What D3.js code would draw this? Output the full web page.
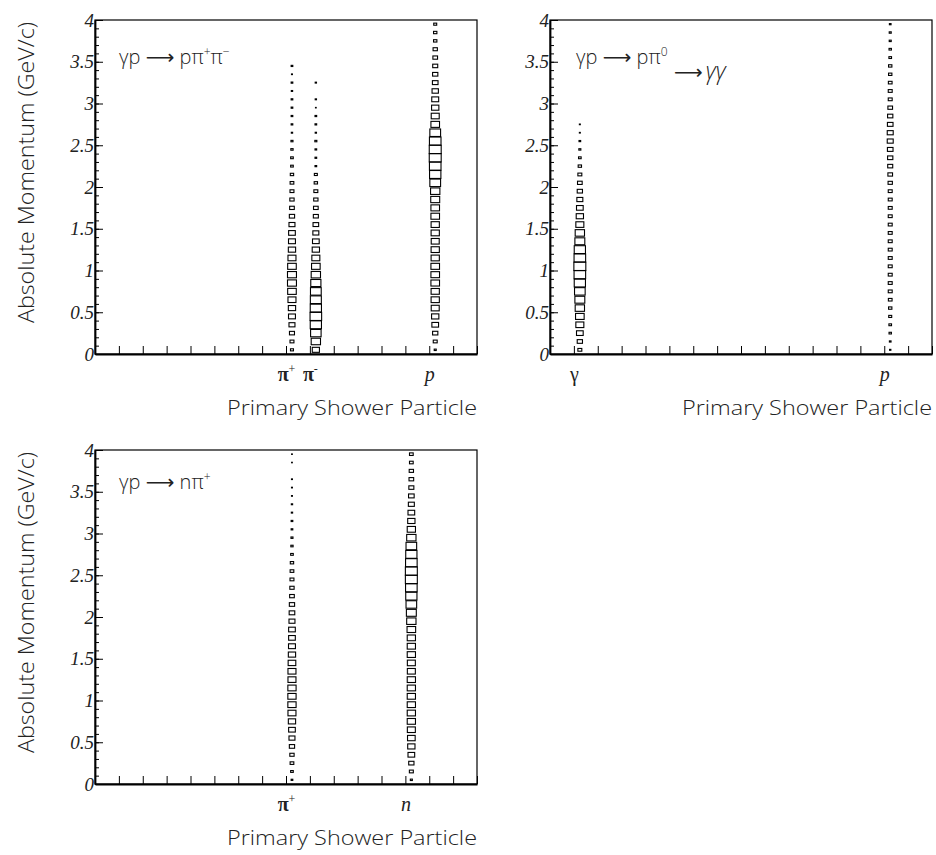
<!DOCTYPE html>
<html>
<head>
<meta charset="utf-8">
<script src="https://cdn.jsdelivr.net/npm/d3@7"></script>
<style>
  body { margin: 0; background: #fff; }
  svg { display: block; }
</style>
</head>
<body>
<svg id="fig" width="936" height="855"></svg>
<script>
// Momentum bin centres (GeV/c), 0.1 GeV/c wide bins from 0 to 4
const momentumCentres = [0.05, 0.15, 0.25, 0.35, 0.45, 0.55, 0.65, 0.75, 0.85, 0.95,
  1.05, 1.15, 1.25, 1.35, 1.45, 1.55, 1.65, 1.75, 1.85, 1.95,
  2.05, 2.15, 2.25, 2.35, 2.45, 2.55, 2.65, 2.75, 2.85, 2.95,
  3.05, 3.15, 3.25, 3.35, 3.45, 3.55, 3.65, 3.75, 3.85, 3.95];
const momentumTicks = [0, 0.5, 1, 1.5, 2, 2.5, 3, 3.5, 4];
const momentumTickLabels = ["0", "0.5", "1", "1.5", "2", "2.5", "3", "3.5", "4"];
const particleAxisTicks = [0, 1, 2, 3, 4, 5, 6, 7, 8, 9, 10, 11, 12, 13, 14, 15, 16];

// γp → pπ+π-  (GEANT ids: π+ = 8, π- = 9, p = 14)
const pipiIds = [8, 9, 14];
const pipiLabels = ["π", "π", "p"];
const pipiCharges = ["+", "-", ""];
const pipiPiPlus = [25, 33, 42, 50, 58, 61, 67, 72, 75, 75, 72, 67, 61, 58, 56, 50, 44, 39, 36, 33,
  31, 28, 22, 22, 19, 17, 11, 14, 14, 14, 14, 11, 14, 8, 14, 0, 0, 0, 0, 0];
const pipiPiMinus = [60, 78, 88, 94, 97, 94, 92, 90, 85, 78, 72, 67, 61, 56, 50, 47, 42, 39, 36, 33,
  28, 25, 14, 14, 14, 17, 11, 14, 14, 6, 11, 0, 11, 0, 0, 0, 0, 0, 0, 0];
const pipiProton = [17, 33, 44, 56, 61, 67, 69, 69, 72, 72, 72, 69, 69, 67, 69, 69, 72, 72, 75, 78,
  90, 95, 97, 100, 100, 97, 90, 72, 67, 61, 58, 53, 47, 44, 42, 39, 36, 28, 28, 25];

// γp → pπ0, π0 → γγ  (GEANT ids: γ = 1, p = 14)
const pi0Ids = [1, 14];
const pi0Labels = ["γ", "p"];
const pi0Charges = ["", ""];
const pi0Gamma = [33, 44, 56, 67, 72, 78, 83, 89, 94, 97, 100, 97, 94, 83, 78, 67, 61, 56, 50, 44,
  39, 33, 28, 22, 17, 14, 8, 8, 0, 0, 0, 0, 0, 0, 0, 0, 0, 0, 0, 0];
const pi0Proton = [11, 14, 20, 22, 25, 28, 31, 33, 33, 33, 33, 33, 33, 33, 33, 33, 33, 33, 33, 33,
  36, 39, 42, 44, 47, 50, 50, 47, 44, 39, 33, 33, 31, 28, 28, 22, 20, 17, 17, 14];

// γp → nπ+  (GEANT ids: π+ = 8, n = 13)
const npiIds = [8, 13];
const npiLabels = ["π", "n"];
const npiCharges = ["+", ""];
const npiPiPlus = [14, 22, 31, 36, 44, 50, 56, 61, 67, 69, 69, 69, 67, 67, 64, 61, 58, 56, 56, 50,
  47, 44, 39, 36, 33, 31, 28, 22, 19, 17, 14, 14, 11, 11, 8, 8, 8, 0, 6, 6];
const npiNeutron = [17, 33, 44, 56, 61, 64, 67, 69, 69, 69, 69, 69, 69, 67, 67, 69, 69, 69, 72, 78,
  83, 89, 94, 97, 100, 100, 97, 94, 89, 78, 69, 61, 56, 50, 47, 42, 39, 36, 31, 31];

const W = 382, H = 334;
const svg = d3.select("#fig");

const panels = [
  { left: 95, top: 20, ids: pipiIds, labels: pipiLabels, charges: pipiCharges,
    series: [pipiPiPlus, pipiPiMinus, pipiProton], yTitle: true, reaction: "pipi" },
  { left: 550, top: 20, ids: pi0Ids, labels: pi0Labels, charges: pi0Charges,
    series: [pi0Gamma, pi0Proton], yTitle: false, reaction: "pi0" },
  { left: 95, top: 450, ids: npiIds, labels: npiLabels, charges: npiCharges,
    series: [npiPiPlus, npiNeutron], yTitle: true, reaction: "npi" }
];

const sans = "'Open Sans', 'Liberation Sans', Arial, sans-serif";
const serif = "'Liberation Serif', 'Times New Roman', serif";
const arrowFont = "'DejaVu Sans', sans-serif";
const ink = "#222";

function reactionText(g, kind) {
  const t = g.append("text")
    .attr("font-family", sans).attr("font-weight", 300).attr("font-size", 20).attr("fill", ink);
  const piece = (txt, opts = {}) => {
    const s = t.append("tspan").text(txt);
    if (opts.dy !== undefined) s.attr("dy", opts.dy);
    if (opts.size) s.attr("font-size", opts.size);
    if (opts.family) s.attr("font-family", opts.family).attr("font-weight", "normal");
    return s;
  };
  if (kind === "pipi") {
    t.attr("x", 24).attr("y", 44);
    piece("γp ");
    piece("⟶", { family: arrowFont });
    piece(" pπ");
    piece("+", { dy: -8, size: 12 });
    piece("π", { dy: 8 });
    piece("−", { dy: -8, size: 12 });
  } else if (kind === "pi0") {
    t.attr("x", 26).attr("y", 44);
    piece("γp ");
    piece("⟶", { family: arrowFont });
    piece(" pπ");
    piece("0", { dy: -8, size: 12 });
    const t2 = g.append("text").attr("x", 124).attr("y", 59)
      .attr("font-size", 20).attr("fill", ink);
    t2.append("tspan").attr("font-family", arrowFont).text("⟶");
    t2.append("tspan").attr("dx", 3).attr("font-family", sans).attr("font-weight", 300)
      .attr("font-style", "italic").attr("font-size", 23).text("γγ");
  } else {
    t.attr("x", 24).attr("y", 39);
    piece("γp ");
    piece("⟶", { family: arrowFont });
    piece(" nπ");
    piece("+", { dy: -8, size: 12 });
  }
}

panels.forEach(p => {
  const g = svg.append("g").attr("transform", `translate(${p.left},${p.top})`);
  const x = d3.scaleLinear().domain([0, 16]).range([0, W]);
  const y = d3.scaleLinear().domain([0, 4]).range([H, 0]);
  const binW = x(0.5) - x(0);
  const binH = y(0) - y(0.1);
  const zMax = d3.max(p.series.flat());

  // frame
  g.append("rect").attr("x", 0).attr("y", 0).attr("width", W).attr("height", H)
    .attr("fill", "none").attr("stroke", "#000").attr("stroke-width", 1.2);

  // boxes: side proportional to bin content
  p.series.forEach((vals, si) => {
    const id = p.ids[si];
    const cells = vals.map((v, k) => ({ v, m: momentumCentres[k] })).filter(d => d.v > 0);
    g.append("g").selectAll("rect").data(cells).join("rect")
      .attr("x", d => x(id + 0.25) - binW * d.v / zMax / 2)
      .attr("y", d => y(d.m) - binH * d.v / zMax / 2)
      .attr("width", d => binW * d.v / zMax)
      .attr("height", d => binH * d.v / zMax)
      .attr("fill", "none").attr("stroke", "#000").attr("stroke-width", 1.1);
  });

  // y axis: minor then major ticks, drawn inward
  g.append("g").call(d3.axisLeft(y).ticks(40).tickSize(-4).tickFormat(""))
    .call(a => a.select(".domain").remove())
    .selectAll("line").attr("stroke", "#000");
  const ya = g.append("g").call(d3.axisLeft(y).tickValues(momentumTicks).tickSize(-8).tickSizeOuter(0)
      .tickPadding(1).tickFormat((d, i) => momentumTickLabels[i]));
  ya.select(".domain").attr("stroke", "#000").attr("stroke-width", 1.8);
  ya.selectAll("text").attr("font-family", serif).attr("font-style", "italic")
    .attr("font-size", 19).attr("fill", ink);

  // x axis: integer particle-id ticks
  const xa = g.append("g").attr("transform", `translate(0,${H})`)
    .call(d3.axisBottom(x).tickValues(particleAxisTicks).tickSize(-8).tickSizeOuter(0).tickFormat(""));
  xa.select(".domain").attr("stroke", "#000").attr("stroke-width", 1.8);

  // particle labels under their ids
  const la = g.append("g").attr("transform", `translate(0,${H})`)
    .call(d3.axisBottom(x).tickValues(p.ids).tickSize(0).tickPadding(13).tickFormat((d, i) => p.labels[i]));
  la.select(".domain").remove();
  la.selectAll("text").each(function (d, i) {
    const t = d3.select(this);
    const lab = p.labels[i];
    t.text(null).attr("font-family", serif).attr("font-size", 20).attr("fill", ink);
    const base = t.append("tspan").text(lab);
    if (lab === "π") base.attr("font-weight", "bold");
    else if (lab !== "γ") base.attr("font-style", "italic");
    if (p.charges[i]) {
      t.append("tspan").attr("dy", -8).attr("font-size", 12).text(p.charges[i]);
    }
  });

  // axis titles
  g.append("text").attr("x", W).attr("y", H + 61).attr("text-anchor", "end")
    .attr("font-family", sans).attr("font-weight", 300).attr("font-size", 21).attr("fill", "#222")
    .attr("textLength", 250).attr("lengthAdjust", "spacingAndGlyphs")
    .text("Primary Shower Particle");
  if (p.yTitle) {
    g.append("text").attr("transform", `translate(${-61},0) rotate(-90)`)
      .attr("x", -2).attr("y", 0).attr("text-anchor", "end")
      .attr("font-family", sans).attr("font-weight", 300).attr("font-size", 22).attr("fill", "#222")
      .attr("textLength", 301).attr("lengthAdjust", "spacingAndGlyphs")
      .text("Absolute Momentum (GeV/c)");
  }

  reactionText(g, p.reaction);
});
</script>
</body>
</html>
